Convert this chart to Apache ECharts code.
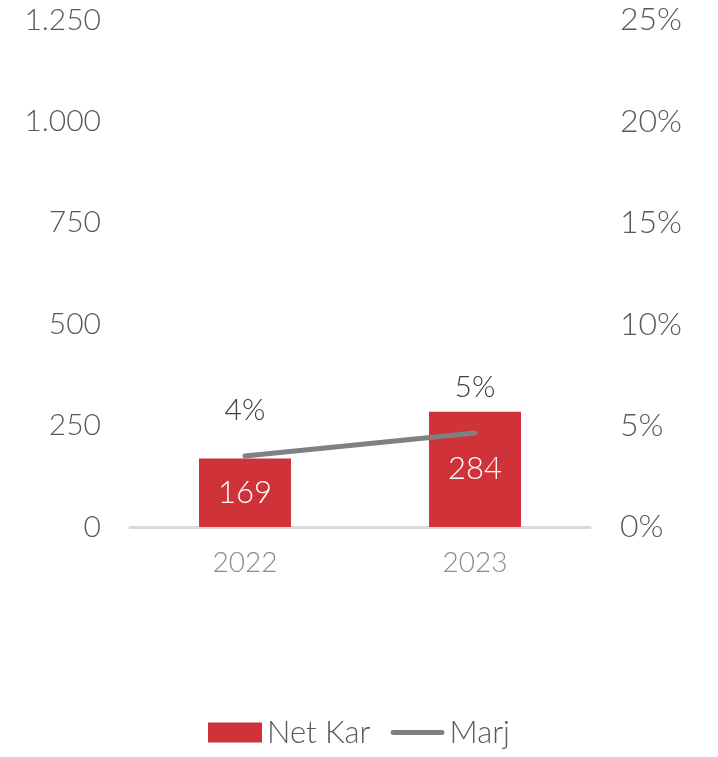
<!DOCTYPE html>
<html>
<head>
<meta charset="utf-8">
<script src="https://cdn.jsdelivr.net/npm/echarts@6/dist/echarts.min.js"></script>
<style>
  html, body { margin: 0; padding: 0; background: #fff; }
  #chart { width: 718px; height: 757px; }
</style>
</head>
<body>
<div id="chart"></div>
<script>
const years = ['2022', '2023'];
const netKar = [169, 284];
const marj = [3.5, 4.63];
const leftTicks = [0, 250, 500, 750, 1000, 1250];
const rightTicks = [0, 5, 10, 15, 20, 25];

const FONT = 'Lato';
const chart = echarts.init(document.getElementById('chart'));

function fmtThousands(v) {
  return String(v).replace(/\B(?=(\d{3})+(?!\d))/g, '.');
}

chart.setOption({
  backgroundColor: '#fff',
  textStyle: { fontFamily: FONT, fontWeight: 300 },
  grid: { left: 130, right: 128, top: 20, bottom: 230 },
  legend: {
    bottom: 4,
    left: 'center',
    itemGap: 20,
    itemWidth: 54,
    itemHeight: 20,
    textStyle: { fontSize: 31, color: '#595959', fontFamily: FONT, fontWeight: 300 },
    data: [
      { name: 'Net Kar', icon: 'rect' },
      {
        name: 'Marj',
        icon: 'path://M2,0h50a2,2 0 0 1 0,5h-50a2,2 0 0 1 0,-5z',
        itemStyle: { color: '#808084', opacity: 1 }
      }
    ]
  },
  xAxis: {
    type: 'category',
    data: years,
    axisLine: { lineStyle: { color: '#d9d9d9', width: 3 } },
    axisTick: { show: false },
    axisLabel: { fontSize: 28, color: '#8c8c8c', margin: 22, fontFamily: FONT, fontWeight: 300 }
  },
  yAxis: [
    {
      type: 'value',
      min: leftTicks[0],
      max: leftTicks[leftTicks.length - 1],
      interval: 250,
      splitLine: { show: false },
      axisLine: { show: false },
      axisTick: { show: false },
      axisLabel: { fontSize: 30, color: '#595959', margin: 29, fontFamily: FONT, fontWeight: 300, formatter: fmtThousands }
    },
    {
      type: 'value',
      min: rightTicks[0],
      max: rightTicks[rightTicks.length - 1],
      interval: 5,
      splitLine: { show: false },
      axisLine: { show: false },
      axisTick: { show: false },
      axisLabel: { fontSize: 32, color: '#595959', margin: 30, fontFamily: FONT, fontWeight: 300, formatter: v => v + '%' }
    }
  ],
  series: [
    {
      name: 'Net Kar',
      type: 'bar',
      data: netKar,
      barWidth: '40%',
      itemStyle: { color: '#d0323a' },
      label: { show: true, position: 'inside', color: '#fff', fontSize: 31, fontFamily: FONT, fontWeight: 300 }
    },
    {
      name: 'Marj',
      type: 'line',
      yAxisIndex: 1,
      data: marj,
      symbol: 'circle',
      symbolSize: 1,
      showSymbol: true,
      lineStyle: { color: '#808084', width: 5, cap: 'round' },
      itemStyle: { color: '#808084', opacity: 0 },
      label: {
        show: true,
        position: 'top',
        distance: 30,
        color: '#404040',
        fontSize: 30,
        fontFamily: FONT,
        fontWeight: 300,
        opacity: 1,
        formatter: p => Math.round(p.value) + '%'
      }
    }
  ]
});
</script>
</body>
</html>
